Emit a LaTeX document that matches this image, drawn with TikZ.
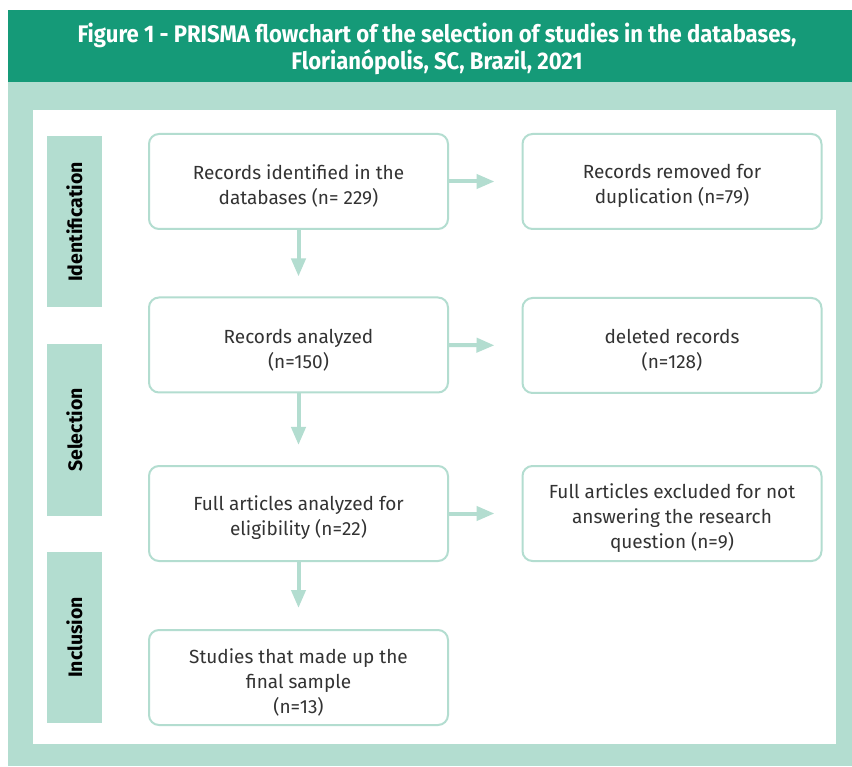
\documentclass[tikz,border=0pt]{standalone}
\usepackage{fontspec}
\setmainfont{Fira Sans}
\newfontfamily\titlefont[FakeStretch=0.92]{Fira Sans}
\usetikzlibrary{arrows.meta, positioning}

\definecolor{bandgreen}{HTML}{159A78}
\definecolor{palegreen}{HTML}{B3DDD0}
\definecolor{textgray}{HTML}{333333}

\newcommand{\toppad}{\rule{0pt}{24pt}}

\tikzset{
  stagebox/.style={fill=palegreen, minimum width=55pt, minimum height=171pt, inner sep=0pt,
    font=\fontsize{19.5}{22}\selectfont\bfseries, text=black},
  recordbox/.style={draw=palegreen, line width=2pt, rounded corners=10pt, fill=white,
    minimum width=299pt, minimum height=95pt, align=center, text=textgray,
    font=\fontsize{19}{25}\selectfont},
  flowarrow/.style={draw=palegreen, line width=4pt, -{Triangle[length=18pt, width=14pt]}}
}

\begin{document}
\begin{tikzpicture}[x=1pt, y=-1pt]
    \useasboundingbox (0,0) rectangle (852,767);

    % Frame and title band
    \fill[palegreen] (8,82) rectangle (852,766);
    \fill[bandgreen] (8,10) rectangle (852,82);
    \fill[white] (33,110) rectangle (836,744);
    \node[text=white, align=center, font=\titlefont\fontsize{24}{24}\selectfont\bfseries] (title) at (437,49)
        {Figure 1 - PRISMA flowchart of the selection of studies in the databases,\\
         Florian\'opolis, SC, Brazil, 2021};

    % Stages
    \node[stagebox] (ident) at (74.5,222) {\rotatebox{90}{Identification}};
    \node[stagebox] (select) at (74.5,430) {\rotatebox{90}{Selection}};
    \node[stagebox] (incl) at (74.5,637.5) {\rotatebox{90}{Inclusion}};

    % Main records
    \node[recordbox] (identified) at (298.5,181.5) {\toppad Records identified in the\\databases (n= 229)};
    \node[recordbox] (analyzed) at (298.5,345) {\toppad Records analyzed\\(n=150)};
    \node[recordbox] (eligible) at (298.5,513.5) {\toppad Full articles analyzed for\\eligibility (n=22)};
    \node[recordbox] (sample) at (298.5,677.5) {\toppad Studies that made up the\\final sample\\(n=13)};

    % Removed records
    \node[recordbox] (duplicates) at (672,181.5) {\toppad Records removed for\\duplication (n=79)};
    \node[recordbox] (deleted) at (672,345.5) {\toppad deleted records\\(n=128)};
    \node[recordbox] (excluded) at (672,513.5) {\toppad Full articles excluded for not\\answering the research\\question (n=9)};

    % Arrows
    \draw[flowarrow, shorten >=20pt] (identified.south) -- (analyzed.north);
    \draw[flowarrow, shorten >=20pt] (analyzed.south) -- (eligible.north);
    \draw[flowarrow, shorten >=21pt] (eligible.south) -- (sample.north);
    \draw[flowarrow, shorten >=27pt] (identified.east) -- (duplicates.west);
    \draw[flowarrow, shorten >=27pt] (analyzed.east) -- (deleted.west);
    \draw[flowarrow, shorten >=27pt] (eligible.east) -- (excluded.west);
\end{tikzpicture}
\end{document}
